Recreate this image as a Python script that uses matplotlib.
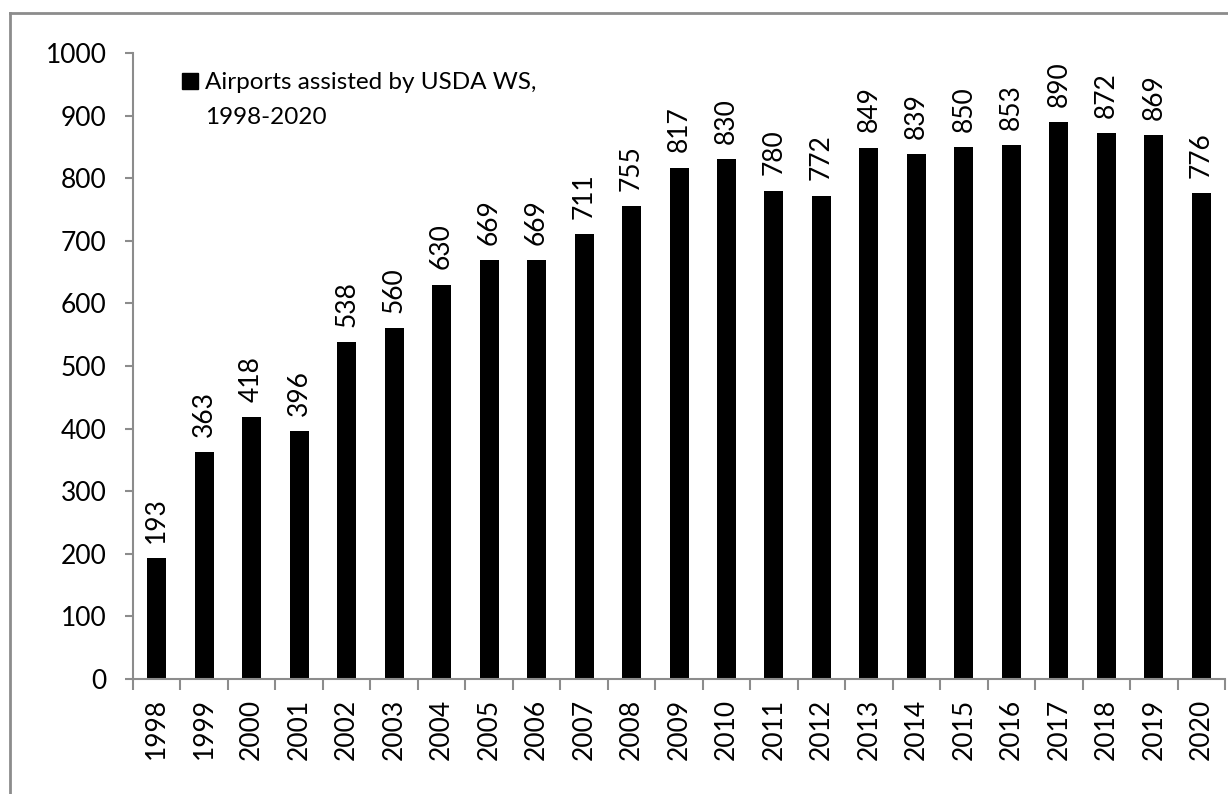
import matplotlib.pyplot as plt
from matplotlib.lines import Line2D

plt.rcParams['font.family'] = ['Lato', 'DejaVu Sans']

# Airports assisted per year
years = [str(y) for y in range(1998, 2021)]
airports = [193, 363, 418, 396, 538, 560, 630, 669, 669, 711, 755, 817,
            830, 780, 772, 849, 839, 850, 853, 890, 872, 869, 776]
legend_lines = ["Airports assisted by USDA WS,", "1998-2020"]

AXIS_GREY = "#8c8c8c"
FS = 19

fig = plt.figure(figsize=(12.28, 7.94), dpi=100)
ax = fig.add_axes([0.1083, 0.1448, 0.8893, 0.7884])

# chart border (left and top edges visible)
fig.add_artist(Line2D([0.0085, 0.0085], [0.0, 0.9836], transform=fig.transFigure,
                      color=AXIS_GREY, lw=2))
fig.add_artist(Line2D([0.0085, 1.0], [0.9836, 0.9836], transform=fig.transFigure,
                      color=AXIS_GREY, lw=2))

x = range(len(years))
bars = ax.bar(x, airports, width=0.4, color="black")

for xi, v in zip(x, airports):
    ax.annotate(str(v), (xi, v), xytext=(0, 11), textcoords="offset points",
                rotation=90, ha="center", va="bottom", fontsize=FS)

ax.set_xlim(-0.5, len(years) - 0.5)
ax.set_ylim(0, 1000)
ax.set_yticks(range(0, 1001, 100))
ax.tick_params(axis="y", labelsize=FS, length=6, color=AXIS_GREY, width=1.5, pad=13)

# category ticks sit between bars, labels at bar centres
ax.set_xticks([i - 0.5 for i in range(len(years) + 1)], minor=False)
ax.set_xticklabels([""] * (len(years) + 1))
ax.set_xticks(list(x), minor=True)
ax.set_xticklabels(years, minor=True, rotation=90, fontsize=FS)
ax.tick_params(axis="x", which="major", length=8, color=AXIS_GREY, width=1.5)
ax.tick_params(axis="x", which="minor", length=0, pad=14)

for side in ["top", "right"]:
    ax.spines[side].set_visible(False)
for side in ["left", "bottom"]:
    ax.spines[side].set_color(AXIS_GREY)
    ax.spines[side].set_linewidth(1.5)

# legend: square marker on the first line, second line continues the label
handles = [Line2D([], [], marker="s", color="none", markerfacecolor="black",
                  markeredgecolor="black", markersize=11),
           Line2D([], [], color="none")]
ax.legend(handles, legend_lines, loc="upper left", bbox_to_anchor=(0.035, 0.985),
          frameon=False, fontsize=17.5, handlelength=0.75, handletextpad=0.25,
          labelspacing=0.55, borderaxespad=0)

plt.savefig("out.png", dpi=100)
